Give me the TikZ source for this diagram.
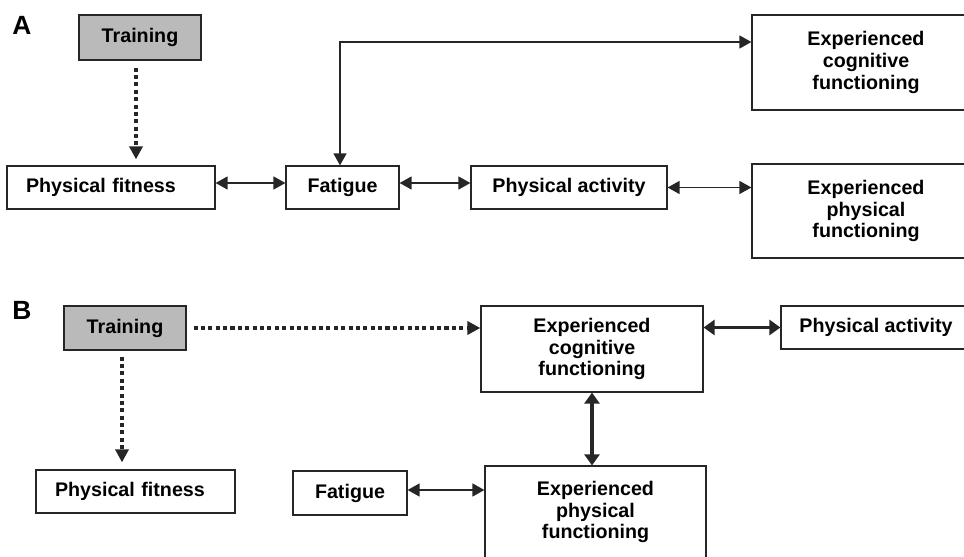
\documentclass[tikz,border=0pt]{standalone}
\usepackage{fontspec}
\setmainfont{Liberation Sans}
\usetikzlibrary{arrows.meta}

\begin{document}
\begin{tikzpicture}[x=0.02cm,y=-0.02cm,
  font=\fontsize{11.2}{12.4}\selectfont\bfseries,
  box/.style={rectangle,draw=black!85,line width=0.7pt,fill=white,inner sep=0pt,align=center},
  gbox/.style={box,fill=black!27},
  lbox/.style={box,align=left,inner xsep=0.38cm},
  lbl/.style={font=\fontsize{15}{17}\selectfont\bfseries},
  dotarr/.style={draw=black!85,line width=2.5pt,dash pattern=on 2.3pt off 1.9pt,-{Triangle[length=0.26cm,width=0.26cm]}},
  dbl/.style={draw=black!85,line width=0.8pt,{Triangle[length=0.24cm,width=0.26cm]}-{Triangle[length=0.24cm,width=0.26cm]}},
  thkdbl/.style={draw=black!85,line width=2.2pt,{Triangle[length=0.22cm,width=0.3cm]}-{Triangle[length=0.22cm,width=0.3cm]}},
]
\useasboundingbox (0,0) rectangle (964,557);

% ---------------- panel A ----------------
\node[lbl] (labA) at (22,25) {A};
\node[gbox,minimum width=2.44cm,minimum height=0.9cm] (trainA) at (140,37.5) {Training};
\node[lbox,text width=3.4cm,minimum height=0.86cm] (fitA) at (111,187.5) {Physical fitness};
\node[box,minimum width=2.26cm,minimum height=0.86cm] (fatA) at (342.5,187.5) {Fatigue};
\node[box,minimum width=3.92cm,minimum height=0.86cm] (actA) at (569,187.5) {Physical activity};
\node[box,minimum width=4.56cm,minimum height=1.9cm] (cogA) at (866,62.5) {Experienced\\cognitive\\functioning};
\node[box,minimum width=4.56cm,minimum height=1.88cm] (phyA) at (866,211) {Experienced\\physical\\functioning};

\coordinate (dA) at ([xshift=-0.08cm]trainA.south);
\draw[dotarr,shorten <=0.14cm,shorten >=0.12cm] (dA) -- (dA |- fitA.north);
\draw[dbl] ([yshift=0.09cm]fitA.east) -- ([yshift=0.09cm]fatA.west);
\draw[dbl] ([yshift=0.09cm]fatA.east) -- ([yshift=0.09cm]actA.west);
\draw[dbl] (actA.east) -- (actA.east -| phyA.west);
\coordinate (turnA) at (340,42);
\draw[dbl] (fatA.north -| turnA) -- (turnA) -- (turnA -| cogA.west);

% ---------------- panel B ----------------
\node[lbl] (labB) at (22,310) {B};
\node[gbox,minimum width=2.44cm,minimum height=0.88cm] (trainB) at (125,328) {Training};
\node[lbox,text width=3.22cm,minimum height=0.86cm] (fitB) at (135.5,491.5) {Physical fitness};
\node[box,minimum width=2.28cm,minimum height=0.88cm] (fatB) at (350,493) {Fatigue};
\node[box,minimum width=4.44cm,minimum height=1.72cm] (cogB) at (592,349) {Experienced\\cognitive\\functioning};
\node[box,minimum width=3.8cm,minimum height=0.86cm] (actB) at (876,327.5) {Physical activity};
\node[box,minimum width=4.42cm,minimum height=1.84cm] (phyB) at (595.5,512) {Experienced\\physical\\functioning};

\draw[dotarr,shorten <=0.14cm] (trainB.east) -- (trainB.east -| cogB.west);
\coordinate (dB) at ([xshift=-0.06cm]trainB.south);
\draw[dotarr,shorten <=0.12cm,shorten >=0.14cm] (dB) -- (dB |- fitB.north);
\draw[thkdbl] (actB.west -| cogB.east) -- (actB.west);
\draw[thkdbl] (cogB.south) -- (cogB.south |- phyB.north);
\draw[dbl] ([yshift=0.06cm]fatB.east) -- ([yshift=0.06cm]fatB.east -| phyB.west);
\end{tikzpicture}
\end{document}
